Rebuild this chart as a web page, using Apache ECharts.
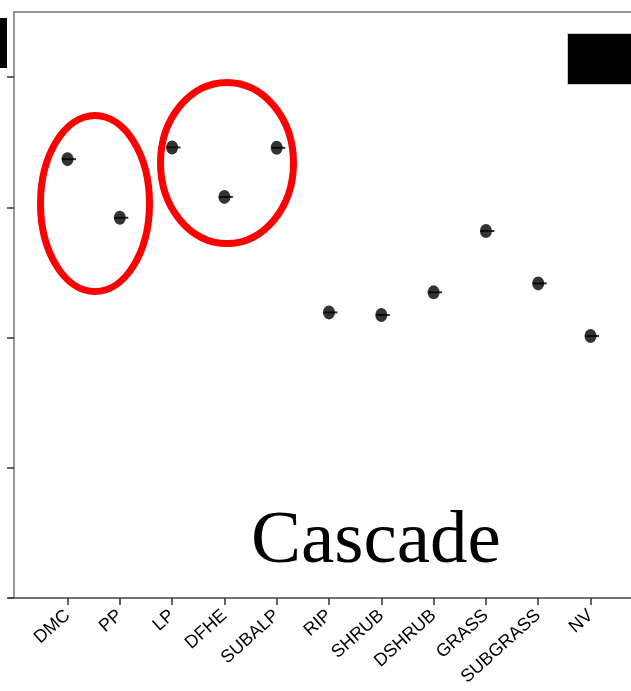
<!DOCTYPE html>
<html>
<head>
<meta charset="utf-8">
<script src="https://cdn.jsdelivr.net/npm/echarts@6/dist/echarts.min.js"></script>
<style>
html, body { margin: 0; padding: 0; background: #fff; }
#main { width: 631px; height: 691px; }
</style>
</head>
<body>
<div id="main"></div>
<script>
// vegetation classes along the x axis
var categories = ['DMC', 'PP', 'LP', 'DFHE', 'SUBALP', 'RIP', 'SHRUB', 'DSHRUB', 'GRASS', 'SUBGRASS', 'NV'];
// estimated point values (y axis has no labels in the reference)
var values = [3.37, 2.92, 3.46, 3.08, 3.457, 2.193, 2.173, 2.347, 2.818, 2.416, 2.012];
var yTicks = [0, 1, 2, 3, 4];
var xTicks = [0, 1, 2, 3, 4, 5, 6, 7, 8, 9, 10];

var chart = echarts.init(document.getElementById('main'));

var points = values.map(function (v, i) { return [i, v]; });

var option = {
    animation: false,
    backgroundColor: '#fff',
    grid: { left: 14, right: 0, top: 12, bottom: 93 },
    xAxis: [{
        type: 'value',
        min: -1.023,
        max: 10.774,
        splitLine: { show: false },
        axisLine: { onZero: false, lineStyle: { color: '#444', width: 1.5 } },
        axisTick: { customValues: xTicks, length: 7, lineStyle: { color: '#333', width: 1.5 } },
        axisLabel: {
            customValues: xTicks,
            rotate: 42,
            margin: 15,
            fontFamily: 'Liberation Sans',
            fontSize: 18,
            color: '#000',
            formatter: function (v) { return categories[Math.round(v)]; }
        }
    }, {
        type: 'value',
        position: 'top',
        min: -1.023,
        max: 10.774,
        splitLine: { show: false },
        axisLine: { show: true, onZero: false, lineStyle: { color: '#777', width: 1.5 } },
        axisTick: { show: false },
        axisLabel: { show: false }
    }],
    yAxis: {
        type: 'value',
        min: 0,
        max: 4.5,
        interval: 1,
        splitLine: { show: false },
        axisLine: { show: true, onZero: false, lineStyle: { color: '#777', width: 1.5 } },
        axisTick: { show: true, length: 7, customValues: yTicks, lineStyle: { color: '#333', width: 1.5 } },
        axisLabel: { show: false }
    },
    series: [{
        type: 'scatter',
        data: points,
        symbol: 'rect',
        symbolSize: [14, 2],
        symbolOffset: [1.5, 0],
        itemStyle: { color: '#000' },
        z: 3
    }, {
        type: 'scatter',
        data: points,
        symbol: 'circle',
        symbolSize: [12, 14],
        itemStyle: { color: '#000' },
        z: 4
    }],
    graphic: [
        { type: 'ellipse', shape: { cx: 95, cy: 203.5, rx: 54.5, ry: 88 },
          style: { fill: 'none', stroke: '#ff0000', lineWidth: 7 }, z: 10 },
        { type: 'ellipse', shape: { cx: 227, cy: 163, rx: 66.5, ry: 80.5 },
          style: { fill: 'none', stroke: '#ff0000', lineWidth: 7 }, z: 10 },
        { type: 'rect', shape: { x: 0, y: 18, width: 7, height: 50 },
          style: { fill: '#000' }, z: 10 },
        { type: 'rect', shape: { x: 567.5, y: 33.5, width: 64, height: 51 },
          style: { fill: '#000', stroke: '#ccc', lineWidth: 1 }, z: 10 },
        { type: 'line', shape: { x1: 8, y1: 598, x2: 14, y2: 598 },
          style: { stroke: '#444', lineWidth: 1.5 }, z: 10 },
        { type: 'text', x: 251, y: 580,
          style: { text: 'Cascade', fill: '#000', font: '75px "Liberation Serif"', textVerticalAlign: 'bottom' }, z: 10 }
    ]
};

chart.setOption(option);
</script>
</body>
</html>
